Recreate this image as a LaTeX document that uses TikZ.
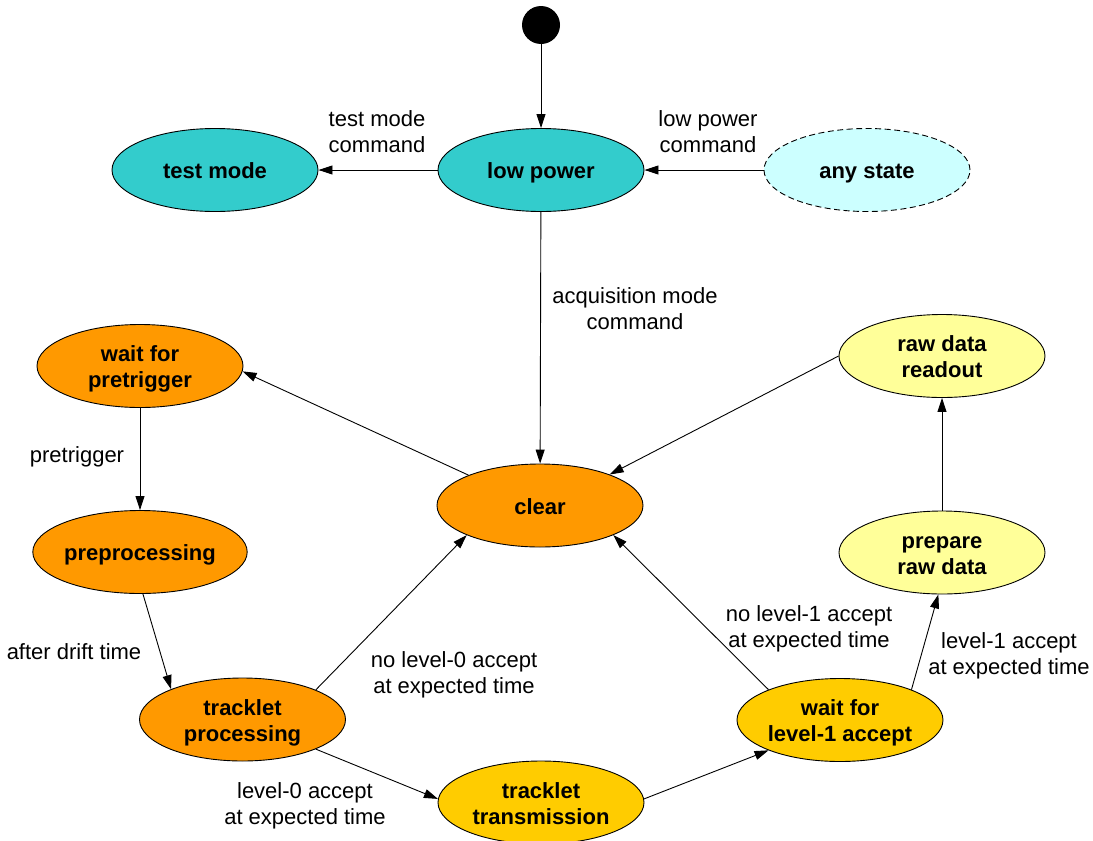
\documentclass[tikz,border=0pt]{standalone}
\usepackage{fontspec}
\setmainfont{Liberation Sans}
\usetikzlibrary{shapes.geometric,arrows.meta}

\definecolor{cyanstate}{HTML}{33CCCC}
\definecolor{anystate}{HTML}{CCFFFF}
\definecolor{orangestate}{HTML}{FF9900}
\definecolor{goldstate}{HTML}{FFCC00}
\definecolor{yellowstate}{HTML}{FFFF99}

% state caption, set slightly below the ellipse centre (box size unchanged)
\newcommand\stcap[1]{\raisebox{-3.5pt}[\height][\depth]{\begin{tabular}{@{}c@{}}#1\end{tabular}}}

\tikzset{
  state/.style={ellipse, draw=black, line width=0.9pt, minimum width=206pt,
    minimum height=83pt, inner sep=0pt, align=center,
    font=\fontsize{22}{26}\selectfont\bfseries},
  trans/.style={line width=0.9pt, -{Triangle[length=14pt,width=9pt]}},
  lbl/.style={align=center, font=\fontsize{22}{26}\selectfont, inner sep=0pt},
  initial/.style={circle, fill=black, minimum size=38pt, inner sep=0pt}
}

\begin{document}
\begin{tikzpicture}[x=1pt,y=-1pt]
\useasboundingbox (0,0) rectangle (1093,841);

% states
\node[initial] (start) at (541,25) {};
\node[state, fill=cyanstate] (tm) at (215,170) {\stcap{test mode}};
\node[state, fill=cyanstate] (lp) at (541,170) {\stcap{low power}};
\node[state, fill=anystate, dashed, dash pattern=on 6pt off 3.5pt] (as) at (867,170) {\stcap{any state}};
\node[state, fill=orangestate] (wp) at (140,366) {\stcap{wait for\\pretrigger}};
\node[state, fill=yellowstate] (rdr) at (942,356) {\stcap{raw data\\readout}};
\node[state, fill=orangestate] (clr) at (540,505.5) {\stcap{clear}};
\node[state, fill=orangestate] (pp) at (140,552) {\stcap{preprocessing}};
\node[state, fill=yellowstate] (prd) at (942,552.5) {\stcap{prepare\\raw data}};
\node[state, fill=orangestate] (tp) at (242.5,719.5) {\stcap{tracklet\\processing}};
\node[state, fill=goldstate] (wl) at (840,720) {\stcap{wait for\\level-1 accept}};
\node[state, fill=goldstate] (tt) at (541,802.5) {\stcap{tracklet\\transmission}};

% transitions
\draw[trans] (start) -- (lp);
\draw[trans] (lp.180) -- (tm.0);
\draw[trans] (as.180) -- (lp.0);
\draw[trans] (lp) -- (clr);
\draw[trans] (clr.157) -- (wp.-3);
\draw[trans] (rdr.180) -- (clr.24);
\draw[trans] (wp) -- (pp);
\draw[trans] (pp.-86) -- (tp.157);
\draw[trans] (tp.22) -- (clr.-158);
\draw[trans] (tp.-22) -- (tt.178);
\draw[trans] (tt.2) -- (wl.-157);
\draw[trans] (wl.157) -- (clr.-22);
\draw[trans] (wl.23) -- (prd.-95);
\draw[trans] (prd) -- (rdr);

% transition labels
\node[lbl] (l1) at (377,132) {test mode\\command};
\node[lbl] (l2) at (708,132) {low power\\command};
\node[lbl] (l3) at (635,309) {acquisition mode\\command};
\node[lbl] (l4) at (77,457) {pretrigger};
\node[lbl] (l5) at (74,652) {after drift time};
\node[lbl] (l6) at (454,675) {no level-0 accept\\at expected time};
\node[lbl] (l7) at (305,806) {level-0 accept\\at expected time};
\node[lbl] (l8) at (809,629) {no level-1 accept\\at expected time};
\node[lbl] (l9) at (1009,656) {level-1 accept\\at expected time};
\end{tikzpicture}
\end{document}
